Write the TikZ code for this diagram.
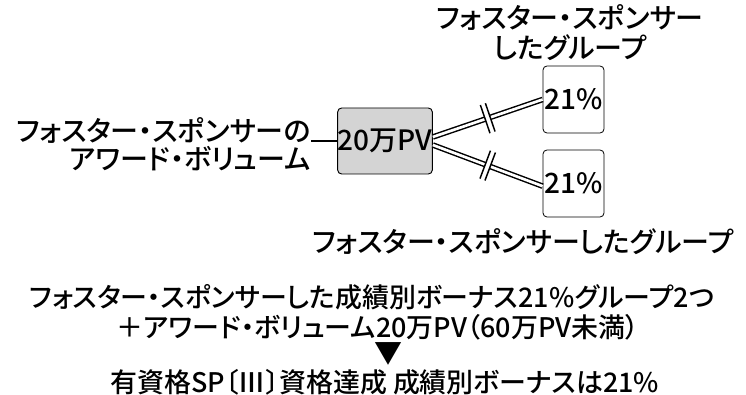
\documentclass[tikz,border=0pt]{standalone}
\usepackage{fontspec}
\setmainfont{Noto Sans CJK JP}[BoldFont={* Medium}, RawFeature=+palt]
\usetikzlibrary{positioning}

\tikzset{
  lbl/.style={font=\fontsize{21}{22.5}\selectfont\bfseries, inner sep=0pt},
  sumlbl/.style={font=\fontsize{20.2}{22.5}\selectfont\bfseries, inner sep=0pt},
  pvbox/.style={draw, line width=.7pt, rounded corners=3pt, fill=black!17,
    minimum width=65pt, minimum height=49.5pt, inner sep=0pt, font=\fontsize{21}{22.5}\selectfont\bfseries},
  grpbox/.style={draw, line width=.6pt, rounded corners=3pt,
    minimum width=45.75pt, minimum height=50.25pt, inner sep=0pt, font=\fontsize{21}{22.5}\selectfont\bfseries},
  dbl/.style={draw, line width=1.1pt, double=white, double distance=2pt},
  brk/.style={sloped, fill=white, inner sep=0pt, minimum width=3.6pt, minimum height=22pt,
    append after command={(\tikzlastnode.north west) edge[draw, line width=1.1pt] (\tikzlastnode.south west)
      (\tikzlastnode.north east) edge[draw, line width=1.1pt] (\tikzlastnode.south east)}}
}

\begin{document}
\begin{tikzpicture}[x=.75pt, y=-.75pt]
	\useasboundingbox (0,0) rectangle (746,395);
	% central volume and the two groups
	\node[pvbox] (vol) at (385,141) {20万PV};
	\node[grpbox] (grpa) at (573.5,99.5) {21\%};
	\node[grpbox] (grpb) at (573.5,183.5) {21\%};
	% labels
	\node[lbl, align=right, anchor=east] (vollbl) at (311,144) {フォスター・スポンサーの\\[-1.5pt]アワード・ボリューム};
	\node[lbl, align=center] (grpalbl) at (570,33) {フォスター・スポンサー\\したグループ};
	\node[lbl] (grpblbl) at (523,242) {フォスター・スポンサーしたグループ};
	\draw[line width=1.3pt] (vol.west) -- (vol.west -| vollbl.east);
	% double connectors with break marks
	\draw[dbl] ([yshift=3pt]vol.east) -- (grpa.west);
	\draw[dbl] ([yshift=-3pt]vol.east) -- ([yshift=-2pt]grpb.west);
	\path ([yshift=3pt]vol.east) -- node[brk] (brka) {} (grpa.west);
	\path ([yshift=-3pt]vol.east) -- node[brk] (brkb) {} ([yshift=-2pt]grpb.west);
	% result text
	\node[sumlbl] (cond) at (372,297) {フォスター・スポンサーした成績別ボーナス21\%グループ2つ};
	\node[sumlbl] (condb) at (378,327) {＋アワード・ボリューム20万PV（60万PV未満）};
	\node[lbl] (arrow) at (388,354) {▼};
	\node[sumlbl] (result) at (385,382) {有資格SP〔Ⅲ〕資格達成 成績別ボーナスは21\%};
\end{tikzpicture}
\end{document}
